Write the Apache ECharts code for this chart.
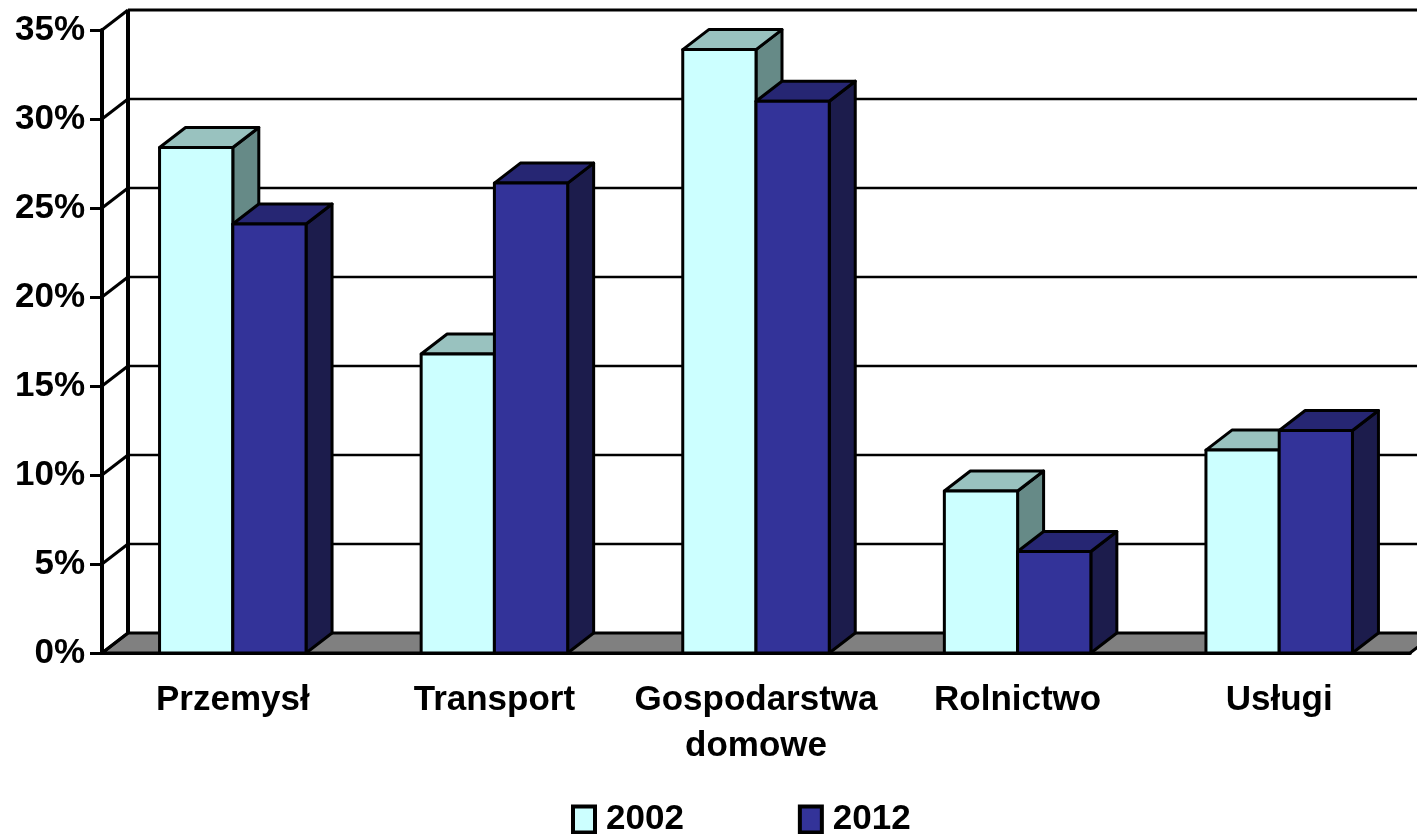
<!DOCTYPE html>
<html>
<head>
<meta charset="utf-8">
<script src="https://cdn.jsdelivr.net/npm/echarts@6/dist/echarts.min.js"></script>
<style>
  html, body { margin: 0; padding: 0; background: #fff; }
  #chart { width: 1417px; height: 834px; }
</style>
</head>
<body>
<div id="chart"></div>
<script>
// dane z wykresu
const categories = ['Przemysł', 'Transport', 'Gospodarstwa\ndomowe', 'Rolnictwo', 'Usługi']
const values2002 = [28.4, 16.8, 33.9, 9.1, 11.4]
const values2012 = [24.1, 26.4, 31.0, 5.7, 12.5]
const yTicks = [0, 5, 10, 15, 20, 25, 30, 35]

const FONT = "'Liberation Sans', Arial, sans-serif"
// przesuniecie glebi (efekt 3D)
const DX = 26
const DY = -20

const chart = echarts.init(document.getElementById('chart'))

// sciany i podloga w tle
function renderFrame(params, api) {
  const cs = params.coordSys
  const v = api.value(0)
  const y = api.coord([0, v])[1]
  const x0 = cs.x
  const x1 = cs.x + cs.width
  const children = []
  if (v === 0) {
    children.push({
      type: 'polygon',
      shape: { points: [[x0, y], [x1, y], [x1 + DX, y + DY], [x0 + DX, y + DY]] },
      style: { fill: '#808080', stroke: '#000', lineWidth: 3 }
    })
    const yTop = api.coord([0, yTicks[yTicks.length - 1]])[1]
    children.push({
      type: 'line',
      shape: { x1: x0 + DX, y1: y + DY, x2: x0 + DX, y2: yTop + DY },
      style: { stroke: '#000', lineWidth: 4 }
    })
  } else {
    children.push({
      type: 'line',
      shape: { x1: x0 + DX, y1: y + DY, x2: x1 + DX, y2: y + DY },
      style: { stroke: '#000', lineWidth: v === 35 ? 3 : 2.5 }
    })
  }
  children.push({
    type: 'line',
    shape: { x1: x0, y1: y, x2: x0 + DX, y2: y + DY },
    style: { stroke: '#000', lineWidth: 3 }
  })
  return { type: 'group', children: children }
}

function makeBarRenderer(side, colors) {
  return function (params, api) {
    const c = api.coord([api.value(0), api.value(1)])
    const base = api.coord([api.value(0), 0])
    const bw = api.size([1, 0])[0] * 0.28
    const xa = side === 0 ? c[0] - bw : c[0]
    const xb = xa + bw
    const yt = c[1]
    const yb = base[1]
    const edge = { stroke: '#000', lineWidth: 3, lineJoin: 'round' }
    return {
      type: 'group',
      children: [
        {
          type: 'polygon',
          shape: { points: [[xb, yt], [xb + DX, yt + DY], [xb + DX, yb + DY], [xb, yb]] },
          style: Object.assign({ fill: colors[2] }, edge)
        },
        {
          type: 'polygon',
          shape: { points: [[xa, yt], [xb, yt], [xb + DX, yt + DY], [xa + DX, yt + DY]] },
          style: Object.assign({ fill: colors[1] }, edge)
        },
        {
          type: 'rect',
          shape: { x: xa, y: yt, width: bw, height: yb - yt },
          style: Object.assign({ fill: colors[0] }, edge)
        }
      ]
    }
  }
}

const option = {
  animation: false,
  backgroundColor: '#fff',
  grid: { left: 102, right: 7, top: 30, bottom: 181 },
  legend: {
    data: ['2002', '2012'],
    top: 797,
    left: 566,
    icon: 'rect',
    itemWidth: 22,
    itemHeight: 26,
    itemGap: 114,
    itemStyle: { borderColor: '#000', borderWidth: 4 },
    textStyle: { fontFamily: FONT, fontWeight: 'bold', fontSize: 35, color: '#000', padding: [0, 0, 0, 6] }
  },
  xAxis: {
    type: 'category',
    data: categories,
    axisLine: { lineStyle: { color: '#000', width: 4 } },
    axisTick: { length: 13, interval: 0, lineStyle: { color: '#000', width: 3 } },
    axisLabel: {
      interval: 0,
      margin: 24,
      color: '#000',
      fontFamily: FONT,
      fontWeight: 'bold',
      fontSize: 35,
      lineHeight: 46
    },
    splitLine: { show: false }
  },
  yAxis: {
    type: 'value',
    min: 0,
    max: 35,
    interval: 5,
    axisLine: { show: true, lineStyle: { color: '#000', width: 4 } },
    axisTick: { show: true, length: 12, lineStyle: { color: '#000', width: 3 } },
    axisLabel: {
      formatter: '{value}%',
      margin: 17,
      color: '#000',
      fontFamily: FONT,
      fontWeight: 'bold',
      fontSize: 35
    },
    splitLine: { show: false }
  },
  series: [
    {
      name: 'frame',
      type: 'custom',
      clip: false,
      silent: true,
      z: 1,
      renderItem: renderFrame,
      encode: { x: -1, y: 0 },
      data: yTicks.map(v => [v])
    },
    {
      name: '2002',
      type: 'custom',
      clip: false,
      z: 3,
      itemStyle: { color: '#CCFFFF', borderColor: '#000', borderWidth: 3 },
      renderItem: makeBarRenderer(0, ['#CCFFFF', '#99C2BF', '#668A87']),
      encode: { x: 0, y: 1 },
      data: values2002.map((v, i) => [i, v])
    },
    {
      name: '2012',
      type: 'custom',
      clip: false,
      z: 4,
      itemStyle: { color: '#333399', borderColor: '#000', borderWidth: 3 },
      renderItem: makeBarRenderer(1, ['#333399', '#262673', '#1C1C4C']),
      encode: { x: 0, y: 1 },
      data: values2012.map((v, i) => [i, v])
    }
  ]
}

chart.setOption(option)
</script>
</body>
</html>
